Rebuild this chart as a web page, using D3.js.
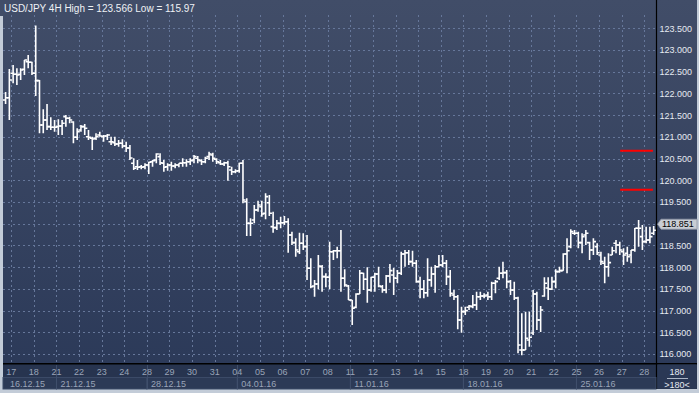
<!DOCTYPE html>
<html><head><meta charset="utf-8">
<script src="https://cdn.jsdelivr.net/npm/d3@7"></script>
<style>html,body{margin:0;padding:0;background:#c3ccd8;}svg{display:block;font-family:"Liberation Sans",Arial,sans-serif;}</style>
</head><body><svg id="c" width="699" height="393"></svg>
<script>
const open=[
121.849,121.902,122.464,122.441,122.441,122.556,122.731,122.717,122.464,122.294,
121.274,121.389,121.235,121.221,121.235,121.251,121.465,121.428,121.343,120.990,
121.159,121.235,121.004,120.967,120.967,121.043,121.004,121.020,120.889,120.866,
120.836,120.852,120.790,120.744,120.392,120.313,120.313,120.313,120.353,120.428,
120.468,120.544,120.392,120.313,120.353,120.330,120.353,120.392,120.405,120.428,
120.468,120.507,120.452,120.428,120.544,120.583,120.484,120.405,120.376,120.405,
120.238,120.198,120.221,120.392,119.507,119.010,119.086,119.316,119.392,119.240,
119.484,118.932,118.909,119.010,119.024,119.047,118.741,118.564,118.356,118.550,
118.472,117.974,117.566,117.612,118.010,117.781,117.767,118.356,118.379,118.379,
117.744,117.566,117.244,117.076,117.382,117.859,117.721,117.474,117.767,117.843,
117.550,117.474,117.797,117.820,117.744,117.859,118.303,118.333,118.126,118.089,
117.666,117.490,117.412,117.705,117.843,118.010,118.050,118.089,117.781,117.359,
117.320,116.783,116.975,117.076,117.090,117.129,117.320,117.336,117.359,117.320,
117.629,117.744,117.859,117.873,117.666,117.474,117.290,116.092,116.092,116.323,
116.484,117.382,116.783,117.336,117.520,117.490,117.666,117.896,117.919,118.303,
118.472,118.780,118.780,118.564,118.741,118.564,118.395,118.472,118.280,118.089,
118.010,118.280,118.550,118.511,118.356,118.319,118.280,118.395,118.895,118.702,
118.587,118.626,118.780];
const high=[
122.034,122.563,122.655,122.579,122.579,122.770,122.886,122.731,123.566,122.310,
121.635,121.757,121.451,121.389,121.405,121.389,121.504,121.465,121.360,121.198,
121.274,121.297,121.159,121.004,121.083,121.120,121.043,121.066,121.004,121.004,
120.928,120.944,120.889,120.813,120.507,120.468,120.353,120.392,120.428,120.468,
120.622,120.622,120.468,120.392,120.428,120.392,120.392,120.507,120.484,120.507,
120.583,120.560,120.484,120.544,120.659,120.636,120.507,120.468,120.428,120.452,
120.313,120.254,120.405,120.468,119.586,119.125,119.432,119.530,119.530,119.701,
119.662,119.277,119.086,119.162,119.178,119.125,118.817,118.665,118.794,118.780,
118.741,118.204,117.705,118.280,118.050,117.859,118.587,118.395,118.472,118.856,
117.951,117.589,117.244,117.398,117.935,117.870,117.997,117.781,117.873,118.010,
117.589,117.820,118.073,117.981,117.935,118.356,118.395,118.395,118.379,118.165,
117.781,117.705,118.204,118.010,118.050,118.280,118.280,118.165,117.935,117.474,
117.359,117.090,117.090,117.129,117.359,117.435,117.435,117.398,117.435,117.666,
117.705,118.010,118.126,117.935,117.705,117.666,117.320,116.938,116.975,116.975,
117.474,117.435,117.106,117.767,117.767,117.781,117.951,118.010,118.319,118.665,
118.872,118.856,118.817,118.780,118.856,118.587,118.665,118.550,118.356,118.241,
118.319,118.472,118.626,118.587,118.434,118.472,118.395,118.900,119.086,118.971,
118.932,118.932,118.948];
const low=[
121.757,121.389,122.234,122.195,122.310,122.425,122.579,122.425,121.941,121.083,
121.083,121.159,121.159,121.120,121.043,121.043,121.235,121.313,120.852,120.928,
121.120,121.043,120.928,120.698,120.928,121.004,120.889,120.928,120.813,120.790,
120.774,120.737,120.652,120.468,120.238,120.238,120.254,120.254,120.145,120.313,
120.392,120.353,120.198,120.221,120.221,120.277,120.300,120.313,120.313,120.353,
120.392,120.392,120.353,120.392,120.468,120.428,120.376,120.353,120.330,119.991,
120.122,120.161,120.175,119.471,118.718,118.718,119.010,119.277,119.162,119.102,
119.178,118.794,118.856,118.895,118.971,118.333,118.511,118.241,118.303,118.395,
117.705,117.513,117.320,117.490,117.435,117.536,117.490,118.165,118.204,117.435,
117.550,117.244,116.668,117.053,117.382,117.474,117.182,117.435,117.435,117.536,
117.412,117.398,117.643,117.359,117.629,117.820,118.010,118.050,118.010,117.643,
117.283,117.283,117.320,117.550,117.412,118.010,117.997,117.589,117.320,117.244,
116.569,116.491,116.898,117.014,117.053,117.014,117.244,117.283,117.244,117.244,
117.398,117.705,117.744,117.513,117.359,117.244,116.016,115.970,116.092,116.168,
116.438,116.553,116.507,117.320,117.244,117.474,117.513,117.873,117.919,117.859,
118.434,118.741,118.434,118.319,118.511,118.165,118.280,118.280,118.050,117.629,
117.781,118.280,118.319,118.280,118.050,118.126,118.089,118.356,118.472,118.395,
118.550,118.550,118.741];
const close=[
121.902,122.310,122.441,122.425,122.540,122.770,122.717,122.464,122.294,121.274,
121.389,121.235,121.221,121.221,121.251,121.313,121.428,121.389,120.990,121.120,
121.235,121.198,120.990,120.951,121.004,121.020,121.020,121.043,120.889,120.836,
120.852,120.790,120.744,120.514,120.277,120.300,120.300,120.353,120.415,120.452,
120.606,120.405,120.300,120.353,120.330,120.353,120.392,120.405,120.428,120.452,
120.544,120.468,120.428,120.507,120.606,120.507,120.428,120.376,120.405,120.313,
120.198,120.214,120.392,119.546,119.010,119.010,119.316,119.432,119.224,119.623,
119.240,118.909,119.010,119.024,119.047,118.741,118.564,118.395,118.550,118.472,
117.974,117.550,117.612,118.027,117.781,117.767,118.356,118.379,118.379,117.744,
117.589,117.244,117.053,117.382,117.859,117.721,117.474,117.767,117.843,117.566,
117.474,117.797,117.919,117.751,117.859,118.303,118.333,118.126,118.089,117.666,
117.490,117.412,117.705,117.843,118.010,118.050,118.089,117.781,117.398,117.320,
116.783,116.975,116.998,117.106,117.129,117.320,117.336,117.336,117.320,117.629,
117.666,117.859,117.873,117.666,117.474,117.290,116.207,116.092,116.362,116.385,
117.382,116.783,117.014,117.629,117.497,117.666,117.896,117.919,118.303,118.379,
118.817,118.780,118.564,118.702,118.780,118.395,118.587,118.333,118.126,118.010,
118.103,118.379,118.511,118.395,118.280,118.241,118.395,118.895,118.895,118.587,
118.626,118.702,118.851];

const yTicks=[116.0,116.5,117.0,117.5,118.0,118.5,119.0,119.5,120.0,120.5,121.0,121.5,122.0,122.5,123.0,123.5];
const dayLabels=["17","18","21","22","23","24","28","29","30","31","04","05","06","07","08","11","12","13","14","15","18","19","20","21","22","25","26","27","28"];
const dayStarts=[2,8,14,20,26,32,38,44,50,56,62,68,74,80,86,92,98,104,110,116,122,128,134,140,146,152,158,164,170];
const weekLabels=["16.12.15","21.12.15","28.12.15","04.01.16","11.01.16","18.01.16","25.01.16"];
const weekStarts=[0,14,38,62,92,122,152];
const titleText="USD/JPY 4H High = 123.566 Low = 115.97";
const levels=[120.68,119.78];
const levelSpan=[163.1,171.8];
const barsInfo=["180",">180<"];

const svg=d3.select("#c");
const W=699,H=393;
const plotL=3,plotR=656,plotT=0,plotB=363;
const N=open.length;
const x=d3.scaleLinear().domain([-0.5,N-0.5]).range([3.7,3.7+3.768*N]);
const y=d3.scaleLinear().domain([116,123.5]).range([354,28.3]);

const defs=svg.append("defs");
const g=defs.append("linearGradient").attr("id","bg").attr("x1",0).attr("y1",0).attr("x2",0).attr("y2",1);
g.append("stop").attr("offset","0%").attr("stop-color","#414d68");
g.append("stop").attr("offset","100%").attr("stop-color","#2c3a59");
defs.append("clipPath").attr("id","pc").append("rect").attr("x",plotL).attr("y",plotT).attr("width",plotR-plotL).attr("height",plotB-plotT);

// frame
svg.append("rect").attr("width",W).attr("height",H).attr("fill","#c3ccd8");
svg.append("rect").attr("x",0).attr("y",0).attr("width",697).attr("height",16).attr("fill","#414d68");
svg.append("rect").attr("x",3).attr("y",0).attr("width",694).attr("height",364).attr("fill","url(#bg)");
svg.append("rect").attr("x",3).attr("y",364).attr("width",694).attr("height",25).attr("fill","#27344f");

// grid
const grid=svg.append("g").attr("clip-path","url(#pc)");
grid.selectAll("line.h").data(yTicks).join("line")
  .attr("x1",plotL).attr("x2",plotR).attr("y1",d=>Math.round(y(d))+0.5).attr("y2",d=>Math.round(y(d))+0.5)
  .attr("stroke","#66779a").attr("stroke-dasharray","2,3").attr("stroke-width",1);
grid.selectAll("line.v").data(dayStarts).join("line")
  .attr("x1",d=>Math.round(x(d-0.5))+0.5).attr("x2",d=>Math.round(x(d-0.5))+0.5).attr("y1",15).attr("y2",plotB)
  .attr("stroke","#66779a").attr("stroke-dasharray","2,3").attr("stroke-width",1);

// bars
const bars=svg.append("g").attr("clip-path","url(#pc)");
bars.selectAll("path").data(d3.range(N)).join("path")
  .attr("d",i=>{const cx=x(i);return `M${cx},${y(high[i])}V${y(low[i])}M${cx-2.6},${y(open[i])}H${cx}M${cx},${y(close[i])}H${cx+2.6}`;})
  .attr("fill","none").attr("stroke","#ffffff").attr("stroke-width",1.6);

// levels
svg.selectAll("line.lvl").data(levels).join("line")
  .attr("x1",x(levelSpan[0])).attr("x2",x(levelSpan[1])).attr("y1",d=>y(d)).attr("y2",d=>y(d))
  .attr("stroke","#ff0000").attr("stroke-width",2);

// axis lines
svg.append("line").attr("x1",656.5).attr("x2",656.5).attr("y1",0).attr("y2",389).attr("stroke","#000").attr("stroke-width",1.2);
svg.append("line").attr("x1",3).attr("x2",697).attr("y1",363.8).attr("y2",363.8).attr("stroke","#000").attr("stroke-width",1.4);

// right axis labels
const ra=svg.append("g");
ra.selectAll("text").data(yTicks).join("text")
  .attr("x",659.5).attr("y",d=>y(d)+3.4).attr("font-size",9).attr("fill","#e6eaf1")
  .text(d=>d.toFixed(3));

// bottom axis: week boxes
const wb=svg.append("g");
wb.selectAll("rect").data(weekStarts).join("rect")
  .attr("x",(d,i)=>i===0?3:x(d-0.5))
  .attr("width",(d,i)=>(i<weekStarts.length-1?x(weekStarts[i+1]-0.5):656)-(i===0?3:x(d-0.5)))
  .attr("y",377.5).attr("height",11.5).attr("fill","#2c3a56").attr("stroke","#3b4a67").attr("stroke-width",1);
wb.selectAll("line").data(weekStarts.slice(1)).join("line")
  .attr("x1",d=>Math.round(x(d-0.5))+0.5).attr("x2",d=>Math.round(x(d-0.5))+0.5).attr("y1",365).attr("y2",389)
  .attr("stroke","#3f4e6b").attr("stroke-width",1);
wb.selectAll("text").data(weekLabels).join("text")
  .attr("x",(d,i)=>i===0?10:x(weekStarts[i]-0.5)+4).attr("y",386.6).attr("font-size",9).attr("fill","#9aa4b8").text(d=>d);
svg.append("g").selectAll("text").data(dayLabels).join("text")
  .attr("x",(d,i)=>x(dayStarts[i]-0.5)).attr("y",374.6).attr("text-anchor","middle").attr("font-size",9).attr("fill","#9aa4b8").text(d=>d);

// bottom-right box
svg.append("rect").attr("x",657.5).attr("y",364.5).attr("width",39).attr("height",24).attr("fill","#2a3855");
svg.append("text").attr("x",677).attr("y",375.3).attr("text-anchor","middle").attr("font-size",9).attr("fill","#e6eaf1").text(barsInfo[0]);
svg.append("line").attr("x1",667).attr("x2",688).attr("y1",378.5).attr("y2",378.5).attr("stroke","#aab4c4").attr("stroke-width",1);
svg.append("text").attr("x",677).attr("y",387.6).attr("text-anchor","middle").attr("font-size",9).attr("fill","#e6eaf1").text(barsInfo[1]);

// last price tag
const lc=close[N-1];
const yc=y(lc)-6;
svg.append("path").attr("d",`M657.5,${yc}L661,${yc-5}H697V${yc+5}H661Z`).attr("fill","#c9cdd4").attr("stroke","#8f97a6").attr("stroke-width",0.8);
svg.append("text").attr("x",662).attr("y",yc+3.3).attr("font-size",9).attr("fill","#000").text(lc.toFixed(3));

// title
svg.append("text").attr("x",4).attr("y",11.8).attr("font-size",10).attr("fill","#eef1f5").text(titleText);
</script></body></html>
